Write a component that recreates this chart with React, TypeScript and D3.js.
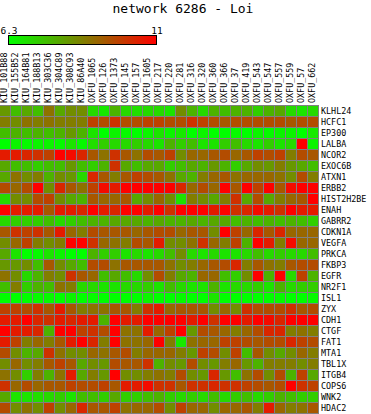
import React, { useEffect, useRef } from "react";
import * as d3 from "d3";

const title = "network 6286 - Loi";
const legendMin = 6.3;
const legendMax = 11;

const samples = [
  "KIU_101B88", "KIU_155B52", "KIU_164B81", "KIU_188B13", "KIU_303C36",
  "KIU_304C89", "KIU_308C93", "KIU_86A40", "OXFU_1065", "OXFU_126",
  "OXFU_1373", "OXFU_145", "OXFU_157", "OXFU_1605", "OXFU_217",
  "OXFU_220", "OXFU_281", "OXFU_316", "OXFU_320", "OXFU_360",
  "OXFU_366", "OXFU_37", "OXFU_419", "OXFU_543", "OXFU_547",
  "OXFU_557", "OXFU_559", "OXFU_57", "OXFU_662"
];

const genes = [
  "KLHL24", "HCFC1", "EP300", "LALBA", "NCOR2", "EXOC6B", "ATXN1",
  "ERBB2", "HIST2H2BE", "ENAH", "GABRR2", "CDKN1A", "VEGFA", "PRKCA",
  "FKBP3", "EGFR", "NR2F1", "ISL1", "ZYX", "CDH1", "CTGF", "FAT1",
  "MTA1", "TBL1X", "ITGB4", "COPS6", "WNK2", "HDAC2"
];

// expression, one row per gene, one value per sample
const KLHL24 = [8.2,7.5,7.9,7.5,8.9,7.9,8.4,8.4,7.0,6.7,7.7,7.0,6.9,7.0,7.0,6.8,8.4,7.7,7.0,7.7,7.5,7.7,7.7,7.2,7.7,7.9,7.0,6.8,7.0];
const HCFC1 = [8.7,8.4,8.9,8.7,8.9,8.7,8.7,8.7,9.8,9.6,10.1,9.6,9.6,9.8,9.8,9.6,9.6,10.1,9.8,9.6,9.4,9.6,9.6,9.6,9.6,9.6,9.4,9.6,9.6];
const EP300 = [7.5,7.7,7.5,7.7,7.5,7.7,8.2,7.7,6.8,6.3,6.5,6.4,6.3,6.5,6.8,6.5,6.7,6.3,6.5,6.3,6.3,6.4,6.3,6.5,6.4,6.5,6.5,6.3,6.7];
const LALBA = [6.3,6.5,6.4,6.5,6.5,6.4,6.8,6.4,6.9,7.2,7.0,7.0,7.2,7.0,6.8,7.7,7.2,7.5,6.8,6.8,7.2,7.5,7.0,6.8,7.2,6.8,7.0,11,6.5];
const NCOR2 = [10.5,10.5,10.3,10.1,9.8,11,10.8,10.3,9.4,8.9,10.1,9.4,8.9,9.6,9.4,9.8,8.4,9.1,9.1,9.4,9.6,9.1,9.4,9.8,9.6,9.8,8.7,9.6,9.4];
const EXOC6B = [7.9,7.5,7.5,7.2,7.5,7.5,8.2,7.5,7.2,7.7,10.1,7.9,7.5,7.9,7.9,7.2,7.5,7.9,7.7,8.2,7.7,7.2,7.9,8.4,8.2,8.7,8.2,7.9,7.5];
const ATXN1 = [7.9,8.9,8.4,8.7,7.7,8.4,8.2,7.0,10.3,9.4,8.7,9.4,9.8,9.6,9.4,8.9,7.9,7.7,8.7,9.1,9.4,8.9,9.1,9.1,9.1,8.9,8.4,9.6,8.7];
const ERBB2 = [9.6,9.1,9.6,11,8.4,10.3,9.4,8.9,9.8,10.8,10.5,11,11,11,11,11,10.3,9.1,9.6,9.1,11,9.4,11,9.8,11,9.4,10.8,11,11];
const HIST2H2BE = [7.0,8.4,8.4,9.6,9.8,8.4,7.9,7.7,9.4,9.1,9.1,9.4,7.9,8.4,9.1,8.4,6.8,8.7,8.4,7.9,8.7,10.1,7.9,9.6,7.9,8.7,9.1,9.4,11];
const ENAH = [11,10.5,10.5,10.5,9.4,10.5,10.5,10.3,11,10.5,10.3,11,11,10.5,11,10.1,11,11,11,10.5,11,10.1,10.3,10.8,10.5,10.1,11,10.5,10.5];
const GABRR2 = [7.0,7.2,7.2,7.2,7.5,7.0,7.2,7.5,7.7,7.7,7.9,7.9,7.9,7.7,7.9,7.7,7.7,7.9,7.7,7.9,7.9,7.5,7.7,7.5,7.7,7.5,7.7,7.5,7.2];
const CDKN1A = [9.4,10.1,9.8,10.1,9.4,10.5,9.1,8.7,9.6,9.4,9.4,9.4,9.1,9.4,9.6,9.6,9.1,9.4,9.4,8.4,11,9.8,9.1,10.3,9.4,10.3,9.1,9.1,9.1];
const VEGFA = [8.4,9.1,9.8,8.7,8.4,8.7,11,11,10.1,9.1,8.9,8.7,9.6,9.4,10.5,8.4,8.4,8.9,10.1,9.1,8.7,9.8,7.7,11,10.5,8.7,10.8,9.1,9.1];
const PRKCA = [7.9,6.8,6.3,6.4,6.8,6.5,6.3,6.3,7.7,7.2,7.2,6.8,7.0,6.8,7.0,7.5,8.4,7.0,6.8,7.0,6.8,6.8,7.0,7.5,7.0,7.2,7.0,7.0,7.5];
const FKBP3 = [8.2,8.2,8.4,7.5,9.4,8.4,7.9,7.5,9.6,9.6,8.9,9.4,9.4,9.4,9.4,8.9,8.4,8.7,9.1,9.4,9.6,10.3,8.7,9.4,8.9,8.7,9.4,9.6,9.6];
const EGFR = [8.9,8.4,7.0,7.7,8.7,8.4,10.1,9.4,9.1,7.5,7.9,7.5,7.0,8.4,9.6,8.7,7.9,7.7,9.1,9.1,7.5,7.2,8.4,11,7.7,11,7.0,9.8,7.7];
const NR2F1 = [7.5,8.7,7.2,7.7,7.5,8.9,8.7,7.0,7.0,6.8,6.8,7.0,7.0,7.2,6.8,7.5,7.0,6.8,6.8,7.7,6.8,7.0,7.0,7.2,6.8,7.7,7.0,7.2,7.2];
const ISL1 = [6.3,6.3,6.3,6.4,6.4,6.3,6.5,6.3,6.4,6.3,6.3,6.3,6.3,6.5,6.3,6.3,6.4,6.3,6.3,6.8,6.3,6.3,6.3,6.3,6.3,6.4,6.3,6.3,6.4];
const ZYX = [9.8,9.8,9.6,10.1,9.4,10.5,9.4,8.7,8.9,8.9,9.4,9.4,8.7,10.1,10.5,9.1,9.4,9.4,9.4,8.4,9.1,8.4,10.1,9.6,9.6,9.6,10.1,9.4,9.6];
const CDH1 = [10.5,10.5,11,10.3,10.1,10.5,10.3,10.5,10.5,7.7,11,10.5,10.5,11,11,11,11,10.5,11,10.1,11,11,10.5,11,10.8,10.3,11,11,11];
const CTGF = [11,10.5,10.5,10.3,7.7,11,11,9.8,10.1,9.6,11,8.9,8.9,10.5,9.1,9.8,11,8.2,9.6,9.4,9.1,8.7,9.1,9.6,10.3,10.3,8.7,8.9,8.7];
const FAT1 = [10.5,9.8,8.7,9.1,8.7,9.4,10.5,11,10.3,8.7,11,8.9,8.9,9.1,11,8.7,6.7,8.9,9.1,9.1,9.8,9.8,9.6,9.4,9.6,9.6,10.3,9.8,9.6];
const MTA1 = [9.6,8.4,7.7,7.9,10.1,8.9,8.4,8.4,9.1,8.9,9.4,9.6,8.7,9.1,9.1,9.1,8.7,8.2,9.8,9.6,8.4,9.8,7.5,9.4,8.4,7.9,8.4,9.1,8.7];
const TBL1X = [8.4,9.1,8.4,8.7,9.4,9.8,9.4,7.9,8.4,8.2,9.6,9.4,9.4,10.1,7.7,8.4,8.2,9.6,8.4,8.2,8.7,9.1,8.2,7.7,8.7,8.7,8.7,8.4,8.7];
const ITGB4 = [8.9,8.4,7.2,8.7,7.7,8.9,10.5,7.9,8.7,8.2,11,8.4,8.4,8.7,8.9,8.7,9.6,8.4,8.2,10.3,8.2,7.5,8.9,9.6,8.4,9.6,7.7,9.8,7.9];
const COPS6 = [10.1,9.1,9.6,9.1,9.4,9.4,9.8,9.6,9.6,9.8,9.4,10.5,10.5,10.8,10.1,10.1,9.4,10.1,10.1,10.3,10.1,10.1,9.8,9.6,9.4,9.6,11,10.1,9.8];
const WNK2 = [7.9,6.8,6.8,6.9,7.0,7.2,6.8,7.5,7.5,7.2,7.9,7.2,7.2,7.5,7.7,7.2,7.0,7.2,7.0,7.5,7.0,7.2,7.5,7.0,7.2,7.7,7.5,7.2,7.2];
const HDAC2 = [9.6,8.4,8.9,8.4,9.8,8.4,9.1,10.3,9.4,9.4,9.8,8.9,9.1,9.1,9.6,8.4,9.8,9.1,9.1,8.4,9.1,9.1,9.4,8.7,10.5,9.1,8.7,8.9,9.4];

const matrix = [
  KLHL24, HCFC1, EP300, LALBA, NCOR2, EXOC6B, ATXN1, ERBB2, HIST2H2BE,
  ENAH, GABRR2, CDKN1A, VEGFA, PRKCA, FKBP3, EGFR, NR2F1, ISL1, ZYX,
  CDH1, CTGF, FAT1, MTA1, TBL1X, ITGB4, COPS6, WNK2, HDAC2
];

const mono = "'DejaVu Sans Mono', monospace";

function App() {
  const ref = useRef<SVGSVGElement>(null);

  useEffect(() => {
    const svg = d3.select(ref.current);
    svg.selectAll("*").remove();

    const color = d3
      .scaleLinear<string>()
      .domain([legendMin, legendMax])
      .range(["#00ff00", "#ff0000"])
      .clamp(true);

    // title
    svg
      .append("text")
      .attr("x", 183)
      .attr("y", 13)
      .attr("text-anchor", "middle")
      .style("font-family", mono)
      .style("font-size", "13px")
      .text(title);

    // colour key
    const grad = svg
      .append("defs")
      .append("linearGradient")
      .attr("id", "key");
    grad.append("stop").attr("offset", "0%").attr("stop-color", color(legendMin));
    grad.append("stop").attr("offset", "100%").attr("stop-color", color(legendMax));

    const key = d3.scaleLinear().domain([legendMin, legendMax]).range([8, 156]);
    svg
      .append("rect")
      .attr("x", key(legendMin) + 0.5)
      .attr("y", 35.5)
      .attr("width", key(legendMax) - key(legendMin))
      .attr("height", 9)
      .attr("fill", "url(#key)")
      .attr("stroke", "black");
    svg
      .selectAll(".keylab")
      .data([legendMin, legendMax])
      .enter()
      .append("text")
      .attr("x", d => key(d) + 1)
      .attr("y", 33.5)
      .attr("text-anchor", "middle")
      .style("font-family", mono)
      .style("font-size", "9.5px")
      .text(d => String(d));

    // heatmap
    const x = d3.scaleBand().domain(samples).range([-1, 318]);
    const y = d3.scaleBand().domain(genes).range([105, 413]);

    svg
      .append("rect")
      .attr("x", -1)
      .attr("y", 105)
      .attr("width", 320)
      .attr("height", 309)
      .attr("fill", "#808080");

    genes.forEach((g, i) => {
      svg
        .append("g")
        .selectAll("rect")
        .data(matrix[i])
        .enter()
        .append("rect")
        .attr("x", (d, j) => (x(samples[j]) as number) + 1)
        .attr("y", (y(g) as number) + 1)
        .attr("width", x.bandwidth() - 1)
        .attr("height", y.bandwidth() - 1)
        .attr("fill", d => color(d));
    });

    // column labels
    svg
      .selectAll(".collab")
      .data(samples)
      .enter()
      .append("text")
      .attr("transform", d => "translate(" + ((x(d) as number) + 7.5) + ",103) rotate(-90)")
      .style("font-family", mono)
      .style("font-size", "8.4px")
      .text(d => d);

    // row labels
    svg
      .selectAll(".rowlab")
      .data(genes)
      .enter()
      .append("text")
      .attr("x", 321)
      .attr("y", d => (y(d) as number) + 9)
      .style("font-family", mono)
      .style("font-size", "8.4px")
      .text(d => d);
  }, []);

  return (
    <svg
      ref={ref}
      width={371}
      height={414}
      style={{ position: "absolute", left: 0, top: 0, background: "white" }}
    />
  );
}

export default App;
